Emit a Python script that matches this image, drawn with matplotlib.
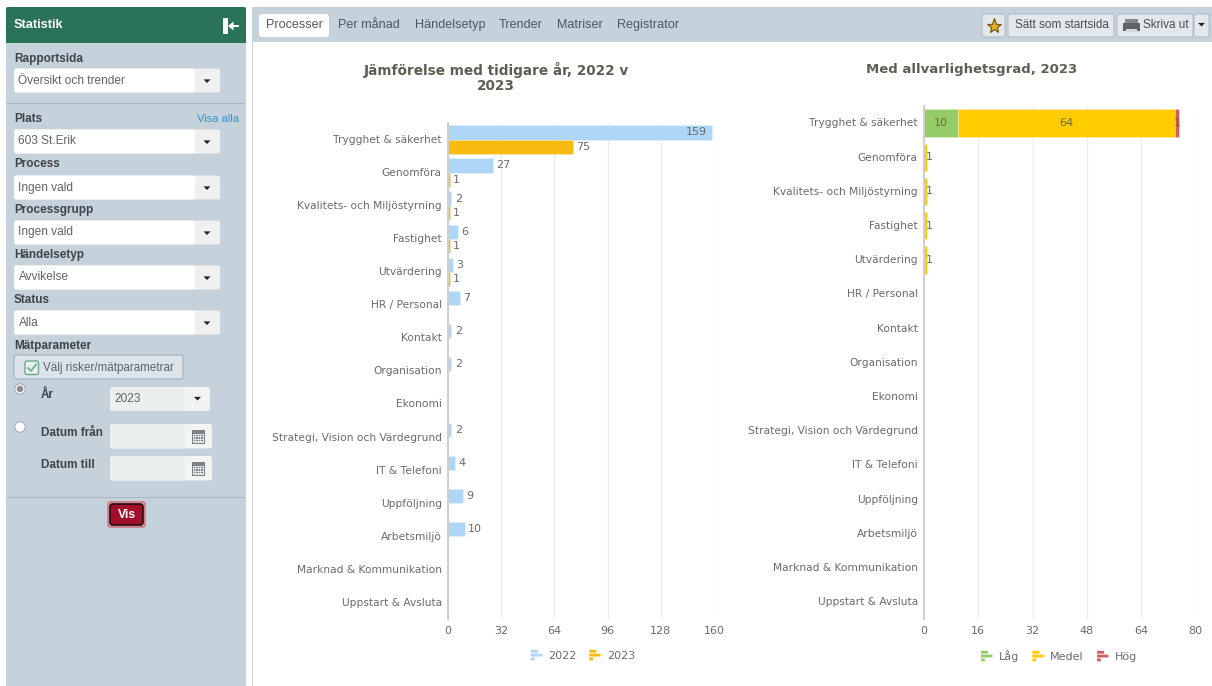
import matplotlib
matplotlib.use("Agg")
import matplotlib.pyplot as plt
from matplotlib.patches import Rectangle, FancyBboxPatch, Circle, Polygon
from matplotlib.legend_handler import HandlerBase
from matplotlib.ticker import FixedLocator
from matplotlib.transforms import ScaledTranslation

# ---- chart data ----
categories = ["Trygghet & säkerhet", "Genomföra", "Kvalitets- och Miljöstyrning", "Fastighet",
              "Utvärdering", "HR / Personal", "Kontakt", "Organisation", "Ekonomi",
              "Strategi, Vision och Värdegrund", "IT & Telefoni", "Uppföljning", "Arbetsmiljö",
              "Marknad & Kommunikation", "Uppstart & Avsluta"]
count_2022 = [159, 27, 2, 6, 3, 7, 2, 2, 0, 2, 4, 9, 10, 0, 0]
count_2023 = [75, 1, 1, 1, 1, 0, 0, 0, 0, 0, 0, 0, 0, 0, 0]
severity_low = [10, 0, 0, 0, 0, 0, 0, 0, 0, 0, 0, 0, 0, 0, 0]
severity_medium = [64, 1, 1, 1, 1, 0, 0, 0, 0, 0, 0, 0, 0, 0, 0]
severity_high = [1, 0, 0, 0, 0, 0, 0, 0, 0, 0, 0, 0, 0, 0, 0]
year_ticks = [0, 32, 64, 96, 128, 160]
severity_ticks = [0, 16, 32, 48, 64, 80]

# ---- sidebar and toolbar texts ----
tabs = [("Processer", 266), ("Per månad", 338), ("Händelsetyp", 415),
        ("Trender", 499), ("Matriser", 557), ("Registrator", 617)]
dropdowns = [("Översikt och trender", 68), ("603 St.Erik", 129), ("Ingen vald", 175),
             ("Ingen vald", 220), ("Avvikelse", 265), ("Alla", 310)]
field_labels = [("Rapportsida", 58), ("Plats", 118), ("Process", 163), ("Processgrupp", 209),
                ("Händelsetyp", 254), ("Status", 299), ("Mätparameter", 345)]

W, H = 1212, 686
PANEL = "#C5D1DB"
GREEN = "#2A7258"
LABEL = "#3F444A"
FIELD = "#5F6468"
TICK = "#6A6A6A"
TITLE = "#5E5E52"
UI = "Liberation Sans"
C22, C23 = "#AED6F7", "#F7BC0F"
CLOW, CMED, CHIGH = "#96CB6A", "#FFCC00", "#D0605E"

fig = plt.figure(figsize=(W / 100, H / 100), dpi=100, facecolor="white")

# Full-canvas layer in pixel units for the application chrome
ui = fig.add_axes([0, 0, 1, 1], zorder=0)
ui.set_xlim(0, W)
ui.set_ylim(H, 0)
ui.axis("off")


def rect(x0, y0, x1, y1, color, z=1, **kw):
    ui.add_patch(Rectangle((x0, y0), x1 - x0, y1 - y0, facecolor=color, edgecolor="none", zorder=z, **kw))


def rounded(x0, y0, x1, y1, color, edge="none", lw=0, r=2.5, z=2):
    ui.add_patch(FancyBboxPatch((x0 + r, y0 + r), x1 - x0 - 2 * r, y1 - y0 - 2 * r,
                                boxstyle=f"round,pad={r},rounding_size={r}",
                                facecolor=color, edgecolor=edge, linewidth=lw, zorder=z))


def caret(cx, cy, s=3.5, color="#222222"):
    ui.add_patch(Polygon([(cx - s, cy - 1.6), (cx + s, cy - 1.6), (cx, cy + 2)], closed=True,
                         facecolor=color, edgecolor="none", zorder=4))


def uitext(x, y, s, size=8.6, color=FIELD, weight="normal", ha="left"):
    ui.text(x, y, s, fontsize=size, color=color, fontweight=weight, ha=ha, va="center",
            family=UI, zorder=5)


def calendar(cx, cy):
    rect(cx - 7.5, cy - 8, cx + 7.5, cy + 8, "#F2F4F4", 3)
    rect(cx - 6.5, cy - 7, cx + 6.5, cy + 7, "#7C8285", 4)
    rect(cx - 5.5, cy - 3, cx + 5.5, cy + 6, "#DFE3E4", 5)
    for col in range(4):
        for row in range(3):
            rect(cx - 4.5 + col * 2.6, cy - 2 + row * 2.7, cx - 3 + col * 2.6, cy - 0.6 + row * 2.7, "#777C80", 6)


# Sidebar
rounded(6, 7, 246, 700, PANEL, r=2, z=1)
rounded(6, 7, 246, 43, GREEN, r=2, z=2)
rect(6, 30, 246, 43, GREEN, 2)
uitext(14, 24.5, "Statistik", 9.2, "white", "bold")
rect(223, 18, 227.5, 34, "white", 3)
rect(232, 24.8, 238.5, 27, "white", 3)
ui.add_patch(Polygon([(228, 26), (233.5, 21.5), (233.5, 30.5)], closed=True, facecolor="white",
                     edgecolor="none", zorder=3))
rect(7, 103, 245, 104.3, "#AAB6C1", 2)
rect(7, 497, 245, 498, "#AAB6C1", 2)

for text, y in field_labels:
    uitext(14, y + 1, text, 8.5, LABEL, "bold")
uitext(239, 118.5, "Visa alla", 8.0, "#2E95D3", ha="right")

for text, y in dropdowns:
    rounded(14, y + 0.5, 220, y + 24.5, "#F0F0F0", z=2)
    rounded(14, y + 0.5, 195, y + 24.5, "white", z=3)
    uitext(18.5, y + 12.5, text)
    caret(207, y + 13)

# Measure-parameter button
rounded(14, 355, 183, 379, "#DCE3E9", edge="#A4B2BE", lw=0.8)
rounded(25, 361, 38.5, 374.5, "#E6F0EC", edge="#6FA794", lw=1, r=2, z=3)
ui.plot([28, 31, 36], [368, 371, 364.5], color="#6FB19C", lw=1.3, zorder=4)
uitext(43, 367.5, "Välj risker/mätparametrar", 8.35)

# Year and date selectors
ui.add_patch(Circle((20, 389), 5.3, facecolor="#F1F1F1", edgecolor="#9AA5AE", lw=0.7, zorder=3))
ui.add_patch(Circle((20, 389), 3.2, facecolor="#8A8A8A", zorder=4))
ui.add_patch(Circle((20, 427), 5.3, facecolor="white", edgecolor="#9AA5AE", lw=0.7, zorder=3))
uitext(41, 395, "År", 8.5, LABEL, "bold")
uitext(41, 433, "Datum från", 8.5, LABEL, "bold")
uitext(41, 465, "Datum till", 8.5, LABEL, "bold")
rounded(110, 387, 210, 411, "#F1F2F2", z=2)
rounded(110, 387, 185, 411, "#ECEFEF", z=3)
uitext(114, 398.5, "2023", 8.6)
caret(197.5, 398.5)
for y in (424, 456):
    rounded(110, y, 212, y + 24.5, "#F3F4F4", z=2)
    rounded(110, y, 185, y + 24.5, "#ECEFEF", z=3)
    calendar(198, y + 12.5)

# Submit button
rounded(108, 502, 145, 527, "#E9B7C1", edge="#C8506A", lw=0.8)
rounded(110, 504, 143, 525, "#A30E2A", edge="#1E1012", lw=1.2, z=3)
uitext(126.5, 515, "Vis", 8.8, "white", "bold", ha="center")

# Toolbar and content frame
rect(253, 7, W, 42, PANEL, 1)
rect(252, 7, 253.3, H, "#C9D6E0", 1)
rounded(259, 14, 329, 37, "white", r=3)
for text, x in tabs:
    uitext(x, 25.2, text, 9.1, "#545C60" if text == "Processer" else "#4D5866")


def tool_button(x0, x1):
    rounded(x0, 14, x1, 37, "#E3E8EC", edge="#AEB9C3", lw=0.7)


tool_button(982, 1005)
ui.plot([994], [25.5], marker="*", ms=11, mfc="#E2B21F", mec="#7A5A16", mew=0.9, zorder=5)
tool_button(1008, 1114)
uitext(1015, 25.2, "Sätt som startsida", 8.5, "#4A4F54")
tool_button(1117, 1193)
tool_button(1194, 1209)
caret(1201.5, 24.5)
rect(1125, 19, 1138, 23, "#85898C", 4)
rect(1123, 23, 1140, 31, "#5F6366", 4)
rect(1126, 29, 1137, 32, "#D6DADD", 5)
uitext(1143, 25.2, "Skriva ut", 8.5, "#4A4F54")

# Chart headings
ui.text(496, 70, "Jämförelse med tidigare år, 2022 v", fontsize=9.8, fontweight="bold", color=TITLE,
        ha="center", va="center", family="DejaVu Sans", zorder=5)
ui.text(496, 86, "2023", fontsize=9.8, fontweight="bold", color=TITLE,
        ha="center", va="center", family="DejaVu Sans", zorder=5)
ui.text(972, 69.5, "Med allvarlighetsgrad, 2023", fontsize=9.55, fontweight="bold", color=TITLE,
        ha="center", va="center", family="DejaVu Sans", zorder=5)


def chart_axes(x0, x1, top, bottom, xmax, ticks):
    """Horizontal-bar axes positioned in canvas pixels."""
    ax = fig.add_axes([x0 / W, 1 - bottom / H, (x1 - x0) / W, (bottom - top) / H], zorder=2)
    ax.patch.set_alpha(0)
    ax.set_xlim(0, xmax)
    ax.set_ylim(len(categories) - 0.5, -0.5)
    ax.xaxis.set_major_locator(FixedLocator(ticks))
    ax.set_yticks(range(len(categories)), categories)
    ax.grid(axis="x", color="#EEEEEE", lw=1)
    ax.set_axisbelow(True)
    for side in ("top", "right", "bottom"):
        ax.spines[side].set_visible(False)
    ax.spines["left"].set_color("#CFCFCF")
    ax.spines["left"].set_linewidth(1.4)
    ax.tick_params(axis="x", length=0, pad=5, labelsize=8, labelcolor=TICK)
    ax.tick_params(axis="y", length=0, pad=4.5, labelsize=7.65, labelcolor=TICK)
    # Category names sit slightly above where the default centring leaves them
    nudge = ScaledTranslation(0, 0.6 / 100, fig.dpi_scale_trans)
    for tick in ax.yaxis.get_major_ticks():
        tick.label1.set_transform(tick.label1.get_transform() + nudge)
    return ax


class BarGlyph(HandlerBase):
    """Legend key shaped as three small stacked bars."""

    def create_artists(self, legend, orig, xd, yd, w, h, fs, trans):
        c = orig.get_facecolor()
        u = 11.5 * 0.72
        parts = []
        for i, frac in enumerate((0.62, 1.0, 0.34)):
            bar = Rectangle((0, h / 2 + u / 2 - (i + 1) * u / 3 + 0.35), u * frac, u / 3 - 0.7,
                            facecolor=c, edgecolor="none", transform=trans)
            bar.set_snap(False)
            parts.append(bar)
        return parts


def chart_legend(ax, handles, labels, cx, spacing):
    ax.legend(handles, labels, handler_map={Rectangle: BarGlyph()}, ncol=len(labels), frameon=False,
              loc="center", bbox_to_anchor=(cx / W, 1 - 656 / H), bbox_transform=fig.transFigure,
              fontsize=8, labelcolor=TICK, handlelength=1.05, handletextpad=0.55, columnspacing=spacing)


EDGE = (1, 1, 1, 0.3)
ypos = list(range(len(categories)))

# Year-over-year comparison
left = chart_axes(448, 714, 123, 619, 160, year_ticks)
h = 0.43
bars22 = left.barh([y - h / 2 for y in ypos], count_2022, height=h, color=C22, edgecolor=EDGE, lw=0.5, zorder=2)
bars23 = left.barh([y + h / 2 for y in ypos], count_2023, height=h, color=C23, edgecolor=EDGE, lw=0.5, zorder=2)
for bars, values in ((bars22, count_2022), (bars23, count_2023)):
    for bar, value in zip(bars, values):
        if value == 0:
            continue
        inside = value > 150
        left.annotate(str(value), (value, bar.get_y() + bar.get_height() / 2),
                      xytext=(-4 if inside else 2.4, 0), textcoords="offset points",
                      ha="right" if inside else "left", va="center", fontsize=8, color=TICK, zorder=4)
chart_legend(left, [Rectangle((0, 0), 1, 1, fc=C22), Rectangle((0, 0), 1, 1, fc=C23)], ["2022", "2023"], 583, 1.1)

# Severity breakdown for the current year
right = chart_axes(924, 1195.5, 106, 619, 80, severity_ticks)
start = [0] * len(categories)
for values, colour in ((severity_low, CLOW), (severity_medium, CMED), (severity_high, CHIGH)):
    bars = right.barh(ypos, values, left=start, height=0.8, color=colour, edgecolor=EDGE, lw=0.5, zorder=2)
    for bar, value, s in zip(bars, values, start):
        if value == 0:
            continue
        shift = 2.4 if value == 1 and s == 0 else 0
        right.annotate(str(value), (s + value / 2, bar.get_y() + bar.get_height() / 2),
                       xytext=(shift, 0), textcoords="offset points",
                       ha="center", va="center", fontsize=8, color="#6E6A40", zorder=4)
    start = [a + b for a, b in zip(start, values)]
chart_legend(right, [Rectangle((0, 0), 1, 1, fc=CLOW), Rectangle((0, 0), 1, 1, fc=CMED),
                     Rectangle((0, 0), 1, 1, fc=CHIGH)], ["Låg", "Medel", "Hög"], 1059, 1.2)

fig.savefig("out.png", dpi=100, facecolor="white")
